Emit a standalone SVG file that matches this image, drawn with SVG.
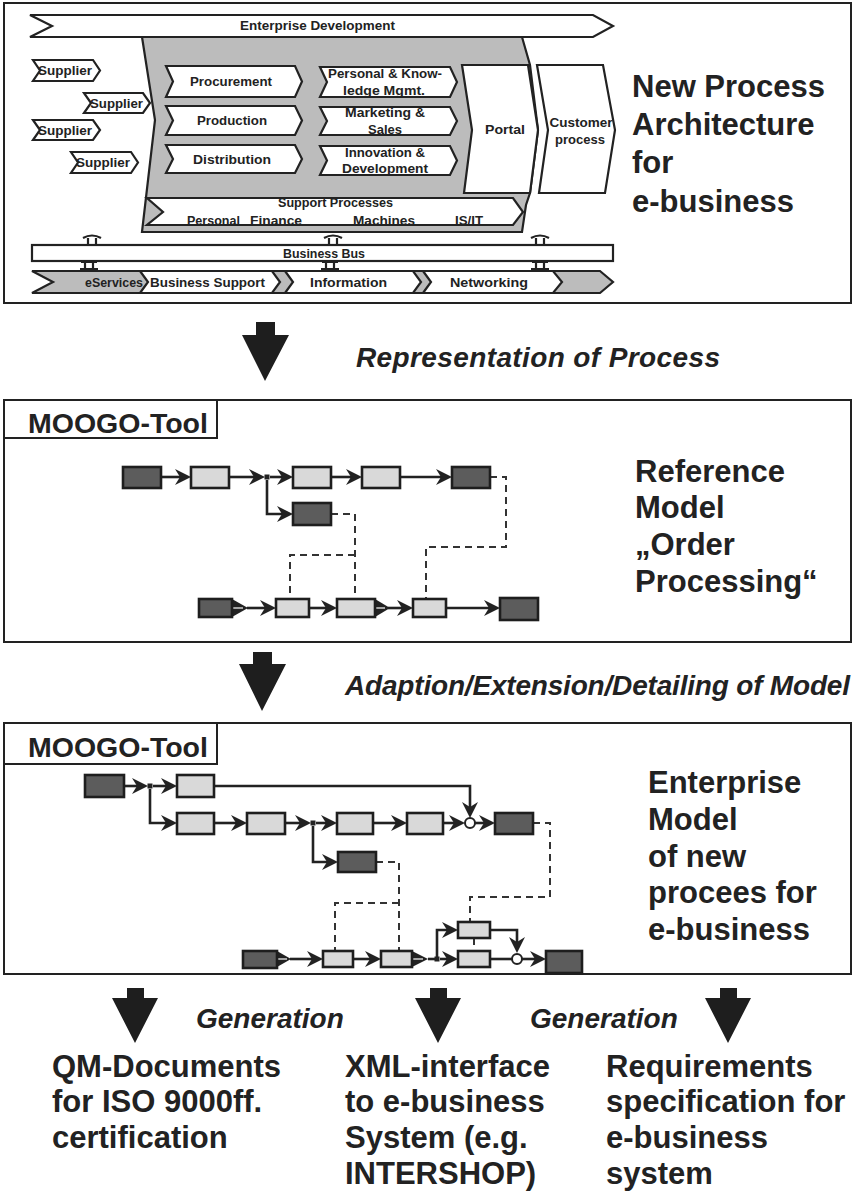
<svg xmlns="http://www.w3.org/2000/svg" xmlns:xlink="http://www.w3.org/1999/xlink" width="853" height="1197" viewBox="0 0 853 1197">
  <defs>
    <style>
      .frame { fill: #fff; stroke: #222; stroke-width: 2; }
      .shape { fill: #fff; stroke: #222; stroke-width: 2.2; stroke-linejoin: miter; }
      .grey { fill: #bcbcbc; stroke: #222; stroke-width: 2.2; }
      .lbl { font-family: "Liberation Sans", Arial, sans-serif; font-weight: bold; fill: #222; }
      .small { font-size: 13px; }
      .big { font-size: 31px; }
      .tool { font-size: 28.5px; }
      .ital { font-size: 28px; font-style: italic; }
      .dark { fill: #5c5c5c; stroke: #1e1e1e; stroke-width: 2.6; }
      .light { fill: #d9d9d9; stroke: #1e1e1e; stroke-width: 2.6; }
      .flow { fill: none; stroke: #222; stroke-width: 2.6; }
      .dash { fill: none; stroke: #333; stroke-width: 2; stroke-dasharray: 7 5; }
      .junc { fill: #222; }
      .merge { fill: #fff; stroke: #222; stroke-width: 2; }
      .bigarrow { fill: #1e1e1e; }
      .beam { fill: none; stroke: #222; stroke-width: 2.2; }
    </style>
    <!-- barbed arrowheads, tip at the origin -->
    <path id="hr" d="M-16,-8 L0,0 L-16,8 L-11,0 Z" fill="#222"/>
    <path id="hd" d="M-8,-16 L0,0 L8,-16 L0,-11 Z" fill="#222"/>
  </defs>

  <rect width="853" height="1197" fill="#fff"/>

  <!-- ===== Process architecture panel ===== -->
  <g id="architecture">
    <rect class="frame" x="4" y="3" width="847" height="300"/>

    <g id="enterprise-development">
      <polygon class="shape" points="30,15 593,15 613,26 593,37 30,37 52,26"/>
      <text class="lbl small" x="240" y="30" textLength="155" lengthAdjust="spacingAndGlyphs">Enterprise Development</text>
    </g>

    <g id="core-area">
      <polygon class="grey" points="142,37 522,37 530,65 538,130 530,193 526,205 522,232 142,232 155,120"/>
    </g>

    <g id="suppliers">
      <polygon class="shape" points="33,60 93,60 100,70.5 93,81 33,81 40,70.5"/>
      <text class="lbl small" x="38" y="75" textLength="54" lengthAdjust="spacingAndGlyphs">Supplier</text>
      <polygon class="shape" points="84,93 143,93 150,103 143,113 84,113 91,103"/>
      <text class="lbl small" x="90" y="107.5" textLength="53" lengthAdjust="spacingAndGlyphs">Supplier</text>
      <polygon class="shape" points="33,120 93,120 100,130 93,140 33,140 40,130"/>
      <text class="lbl small" x="38" y="134.5" textLength="54" lengthAdjust="spacingAndGlyphs">Supplier</text>
      <polygon class="shape" points="71,152 131,152 138,162.5 131,173 71,173 78,162.5"/>
      <text class="lbl small" x="76" y="167" textLength="54" lengthAdjust="spacingAndGlyphs">Supplier</text>
    </g>

    <g id="procurement">
      <polygon class="shape" points="166,66 295,66 302,81.5 295,97 166,97 173,81.5"/>
      <text class="lbl small" x="231" y="86" text-anchor="middle" textLength="82" lengthAdjust="spacingAndGlyphs">Procurement</text>
    </g>
    <g id="production">
      <polygon class="shape" points="166,106 295,106 302,120.5 295,135 166,135 173,120.5"/>
      <text class="lbl small" x="232" y="125" text-anchor="middle" textLength="70" lengthAdjust="spacingAndGlyphs">Production</text>
    </g>
    <g id="distribution">
      <polygon class="shape" points="166,145 295,145 302,159 295,173 166,173 173,159"/>
      <text class="lbl small" x="232" y="164" text-anchor="middle" textLength="78" lengthAdjust="spacingAndGlyphs">Distribution</text>
    </g>

    <g id="knowledge-mgmt">
      <polygon class="shape" points="320,67 450,67 457,82 450,97 320,97 327,82"/>
      <text class="lbl small" x="385" y="78" text-anchor="middle" textLength="114" lengthAdjust="spacingAndGlyphs">Personal &amp; Know-</text>
      <text class="lbl small" x="384" y="95" text-anchor="middle" textLength="82" lengthAdjust="spacingAndGlyphs">ledge Mgmt.</text>
    </g>
    <g id="marketing-sales">
      <polygon class="shape" points="320,107 450,107 457,121 450,135 320,135 327,121"/>
      <text class="lbl small" x="385" y="117" text-anchor="middle" textLength="80" lengthAdjust="spacingAndGlyphs">Marketing &amp;</text>
      <text class="lbl small" x="385" y="134" text-anchor="middle" textLength="34" lengthAdjust="spacingAndGlyphs">Sales</text>
    </g>
    <g id="innovation">
      <polygon class="shape" points="320,146 450,146 457,160.5 450,175 320,175 327,160.5"/>
      <text class="lbl small" x="385" y="157" text-anchor="middle" textLength="80" lengthAdjust="spacingAndGlyphs">Innovation &amp;</text>
      <text class="lbl small" x="385" y="173" text-anchor="middle" textLength="86" lengthAdjust="spacingAndGlyphs">Development</text>
    </g>

    <g id="portal">
      <polygon class="shape" points="462,65 528,65 538,130 530,193 464,193 472,130"/>
      <text class="lbl small" x="505" y="134" text-anchor="middle" textLength="40" lengthAdjust="spacingAndGlyphs">Portal</text>
    </g>
    <g id="customer-process">
      <polygon class="shape" points="537,65 603,65 615,130 605,193 539,193 548,130"/>
      <text class="lbl small" x="581" y="127" text-anchor="middle" textLength="63" lengthAdjust="spacingAndGlyphs">Customer</text>
      <text class="lbl small" x="580" y="144" text-anchor="middle" textLength="50" lengthAdjust="spacingAndGlyphs">process</text>
    </g>

    <g id="support-processes">
      <polygon class="shape" points="147,198 513,198 523,212 513,225 147,225 163,212"/>
      <text class="lbl small" x="278" y="207" textLength="115" lengthAdjust="spacingAndGlyphs">Support Processes</text>
      <text class="lbl small" x="187" y="225" textLength="53" lengthAdjust="spacingAndGlyphs">Personal</text>
      <text class="lbl small" x="250" y="225" textLength="52" lengthAdjust="spacingAndGlyphs">Finance</text>
      <text class="lbl small" x="353" y="225" textLength="62" lengthAdjust="spacingAndGlyphs">Machines</text>
      <text class="lbl small" x="455" y="225" textLength="28" lengthAdjust="spacingAndGlyphs">IS/IT</text>
    </g>

    <g id="business-bus">
      <rect class="shape" x="32" y="245" width="581" height="16"/>
      <text class="lbl small" x="283" y="257.5" textLength="82" lengthAdjust="spacingAndGlyphs">Business Bus</text>
      <!-- bus couplings -->
      <path class="beam" d="M83,238 Q92,233 101,238 M88,238 V245 M96,238 V245 M81,262 H97 M85,262 V271 M93,262 V271 M80,269 H98"/>
      <path class="beam" d="M324,238 Q333,233 342,238 M329,238 V245 M337,238 V245 M322,262 H338 M326,262 V271 M334,262 V271 M321,269 H339"/>
      <path class="beam" d="M531,238 Q540,233 549,238 M536,238 V245 M544,238 V245 M532,262 H548 M536,262 V271 M544,262 V271 M531,269 H549"/>
    </g>

    <g id="eservices">
      <polygon class="grey" points="32,271 600,271 613,282 600,293 32,293 53,282"/>
      <text class="lbl small" x="85" y="286.5" textLength="58" lengthAdjust="spacingAndGlyphs">eServices</text>
      <polygon class="shape" points="140,271 272,271 280,282 272,293 140,293 148,282"/>
      <text class="lbl small" x="150" y="286.5" textLength="115" lengthAdjust="spacingAndGlyphs">Business Support</text>
      <polygon class="shape" points="285,271 413,271 421,282 413,293 285,293 293,282"/>
      <text class="lbl small" x="310" y="286.5" textLength="77" lengthAdjust="spacingAndGlyphs">Information</text>
      <polygon class="shape" points="423,271 553,271 562,282 553,293 423,293 431,282"/>
      <text class="lbl small" x="450" y="286.5" textLength="78" lengthAdjust="spacingAndGlyphs">Networking</text>
    </g>

    <g id="architecture-title">
      <text class="lbl big" x="632" y="97">New Process</text>
      <text class="lbl big" x="632" y="135">Architecture</text>
      <text class="lbl big" x="632" y="173">for</text>
      <text class="lbl big" x="632" y="212">e-business</text>
    </g>
  </g>

  <!-- ===== Transition: representation ===== -->
  <g id="step-representation">
    <path class="bigarrow" d="M256,322 H275 V335 H289 L265,381 L242,335 H256 Z"/>
    <text class="lbl ital" x="356" y="367" textLength="364">Representation of Process</text>
  </g>

  <!-- ===== Reference model panel ===== -->
  <g id="reference-panel">
    <rect class="frame" x="4" y="400" width="847" height="242"/>
    <rect class="frame" x="4" y="400" width="213" height="38"/>
    <text class="lbl tool" x="28" y="433">MOOGO-Tool</text>
    <g id="reference-title">
      <text class="lbl big" x="635" y="482">Reference</text>
      <text class="lbl big" x="635" y="518">Model</text>
      <text class="lbl big" x="635" y="555">„Order</text>
      <text class="lbl big" x="635" y="592">Processing“</text>
    </g>
  </g>

  <g id="reference-connectors">
    <path class="flow" d="M161,477 H186"/>
    <path class="flow" d="M229,477 H260"/>
    <path class="flow" d="M270,477 H288"/>
    <path class="flow" d="M331,477 H357"/>
    <path class="flow" d="M400,477 H447"/>
    <path class="flow" d="M267,480 V514 H288"/>
    <path class="dash" d="M490,477 H506 V547 H426 V599"/>
    <path class="dash" d="M331,514 H355 V599"/>
    <path class="dash" d="M355,555 H290 V599"/>
    <path class="flow" d="M247,608 H271"/>
    <path class="flow" d="M309,608 H332"/>
    <path class="flow" d="M388,608 H408"/>
    <path class="flow" d="M446,608 H495"/>
    <use xlink:href="#hr" x="191" y="477"/>
    <use xlink:href="#hr" x="265" y="477"/>
    <use xlink:href="#hr" x="293" y="477"/>
    <use xlink:href="#hr" x="362" y="477"/>
    <use xlink:href="#hr" x="452" y="477"/>
    <use xlink:href="#hr" x="293" y="514"/>
    <use xlink:href="#hr" x="276" y="608"/>
    <use xlink:href="#hr" x="337" y="608"/>
    <use xlink:href="#hr" x="413" y="608"/>
    <use xlink:href="#hr" x="500" y="608"/>
    <rect class="junc" x="264.5" y="474.5" width="5" height="5"/>
    <polygon fill="#222" points="232,599 248,608 232,617"/>
    <path d="M233,608 H243" stroke="#fff" stroke-width="1.2"/>
    <polygon fill="#222" points="375,599 390,608 375,617"/>
    <path d="M376,608 H385" stroke="#fff" stroke-width="1.2"/>
  </g>

  <g id="reference-nodes">
    <rect id="r-start" class="dark" x="123" y="467" width="38" height="21"/>
    <rect id="r-step1" class="light" x="191" y="467" width="38" height="21"/>
    <rect id="r-step2" class="light" x="293" y="467" width="38" height="21"/>
    <rect id="r-step3" class="light" x="362" y="467" width="38" height="21"/>
    <rect id="r-end" class="dark" x="452" y="467" width="38" height="21"/>
    <rect id="r-alt-end" class="dark" x="293" y="503" width="38" height="22"/>
    <rect id="r-sub-start" class="dark" x="199" y="599" width="33" height="18"/>
    <rect id="r-sub-1" class="light" x="276" y="599" width="33" height="18"/>
    <rect id="r-sub-2" class="light" x="337" y="599" width="38" height="18"/>
    <rect id="r-sub-3" class="light" x="413" y="599" width="33" height="18"/>
    <rect id="r-sub-end" class="dark" x="500" y="598" width="38" height="22"/>
  </g>

  <!-- ===== Transition: adaption ===== -->
  <g id="step-adaption">
    <path class="bigarrow" d="M253,652 H272 V664 H286 L262,711 L239,664 H253 Z"/>
    <text class="lbl ital" x="345" y="695" textLength="505">Adaption/Extension/Detailing of Model</text>
  </g>

  <!-- ===== Enterprise model panel ===== -->
  <g id="enterprise-panel">
    <rect class="frame" x="4" y="723" width="847" height="251"/>
    <rect class="frame" x="4" y="723" width="213" height="41"/>
    <text class="lbl tool" x="28" y="757">MOOGO-Tool</text>
    <g id="enterprise-title">
      <text class="lbl big" x="648" y="793">Enterprise</text>
      <text class="lbl big" x="648" y="830">Model</text>
      <text class="lbl big" x="648" y="867">of new</text>
      <text class="lbl big" x="648" y="903">procees for</text>
      <text class="lbl big" x="648" y="940">e-business</text>
    </g>
  </g>

  <g id="enterprise-connectors">
    <path class="flow" d="M124,786 H143"/>
    <path class="flow" d="M153,786 H172"/>
    <path class="flow" d="M214,786 H470 V813"/>
    <path class="flow" d="M150,789 V823 H172"/>
    <path class="flow" d="M214,823 H242"/>
    <path class="flow" d="M285,823 H306"/>
    <path class="flow" d="M316,823 H332"/>
    <path class="flow" d="M373,823 H402"/>
    <path class="flow" d="M443,823 H460"/>
    <path class="flow" d="M475,823 H490"/>
    <path class="flow" d="M313,826 V862 H333"/>
    <path class="dash" d="M376,862 H399 V951"/>
    <path class="dash" d="M399,903 H335 V951"/>
    <path class="dash" d="M533,823 H550 V897 H470 V922"/>
    <path class="dash" d="M474,938 V951"/>
    <path class="flow" d="M290,959 H318"/>
    <path class="flow" d="M353,959 H376"/>
    <path class="flow" d="M428,959 H436"/>
    <path class="flow" d="M437,957 V930 H453"/>
    <path class="flow" d="M440,959 H453"/>
    <path class="flow" d="M490,930 H517 V948"/>
    <path class="flow" d="M490,959 H512"/>
    <path class="flow" d="M522,959 H541"/>
    <use xlink:href="#hr" x="148" y="786"/>
    <use xlink:href="#hr" x="177" y="786"/>
    <use xlink:href="#hd" x="470" y="818"/>
    <use xlink:href="#hr" x="177" y="823"/>
    <use xlink:href="#hr" x="247" y="823"/>
    <use xlink:href="#hr" x="311" y="823"/>
    <use xlink:href="#hr" x="337" y="823"/>
    <use xlink:href="#hr" x="407" y="823"/>
    <use xlink:href="#hr" x="465" y="823"/>
    <use xlink:href="#hr" x="495" y="823"/>
    <use xlink:href="#hr" x="338" y="862"/>
    <use xlink:href="#hr" x="323" y="959"/>
    <use xlink:href="#hr" x="381" y="959"/>
    <use xlink:href="#hr" x="458" y="930"/>
    <use xlink:href="#hr" x="458" y="959"/>
    <use xlink:href="#hd" x="517" y="953"/>
    <use xlink:href="#hr" x="546" y="959"/>
    <rect class="junc" x="147.5" y="783.5" width="5" height="5"/>
    <rect class="junc" x="310.5" y="820.5" width="5" height="5"/>
    <rect class="junc" x="434.5" y="956.5" width="5" height="5"/>
    <circle class="merge" cx="470" cy="823" r="5"/>
    <circle class="merge" cx="517" cy="959" r="5"/>
    <polygon fill="#222" points="277,951 291,959 277,967"/>
    <path d="M278,959 H287" stroke="#fff" stroke-width="1.2"/>
    <polygon fill="#222" points="412,951 428,959 412,967"/>
    <path d="M413,959 H423" stroke="#fff" stroke-width="1.2"/>
  </g>

  <g id="enterprise-nodes">
    <rect id="e-start" class="dark" x="85" y="775" width="39" height="22"/>
    <rect id="e-a1" class="light" x="177" y="775" width="37" height="22"/>
    <rect id="e-b1" class="light" x="177" y="813" width="37" height="21"/>
    <rect id="e-b2" class="light" x="247" y="813" width="38" height="21"/>
    <rect id="e-b3" class="light" x="337" y="813" width="36" height="21"/>
    <rect id="e-b4" class="light" x="407" y="813" width="36" height="21"/>
    <rect id="e-end" class="dark" x="495" y="813" width="38" height="21"/>
    <rect id="e-alt-end" class="dark" x="338" y="852" width="38" height="20"/>
    <rect id="e-sub-start" class="dark" x="243" y="951" width="34" height="17"/>
    <rect id="e-sub-1" class="light" x="323" y="951" width="30" height="16"/>
    <rect id="e-sub-2" class="light" x="381" y="951" width="31" height="16"/>
    <rect id="e-sub-upper" class="light" x="458" y="922" width="32" height="16"/>
    <rect id="e-sub-lower" class="light" x="458" y="951" width="32" height="16"/>
    <rect id="e-sub-end" class="dark" x="546" y="951" width="36" height="22"/>
  </g>

  <!-- ===== Generated outputs ===== -->
  <g id="outputs">
    <path class="bigarrow" d="M127,988 H144 V998 H158 L135,1043 L112,998 H127 Z"/>
    <path class="bigarrow" d="M430,988 H447 V998 H461 L438,1043 L415,998 H430 Z"/>
    <path class="bigarrow" d="M720,988 H737 V998 H751 L728,1043 L705,998 H720 Z"/>
    <text class="lbl ital" x="196" y="1028">Generation</text>
    <text class="lbl ital" x="530" y="1028">Generation</text>

    <g id="qm-documents">
      <text class="lbl big" x="52" y="1077">QM-Documents</text>
      <text class="lbl big" x="52" y="1112">for ISO 9000ff.</text>
      <text class="lbl big" x="52" y="1148">certification</text>
    </g>
    <g id="xml-interface">
      <text class="lbl big" x="345" y="1077">XML-interface</text>
      <text class="lbl big" x="345" y="1112">to e-business</text>
      <text class="lbl big" x="345" y="1148">System (e.g.</text>
      <text class="lbl big" x="345" y="1184">INTERSHOP)</text>
    </g>
    <g id="requirements">
      <text class="lbl big" x="606" y="1077">Requirements</text>
      <text class="lbl big" x="606" y="1112">specification for</text>
      <text class="lbl big" x="606" y="1148">e-business</text>
      <text class="lbl big" x="606" y="1184">system</text>
    </g>
  </g>
</svg>
